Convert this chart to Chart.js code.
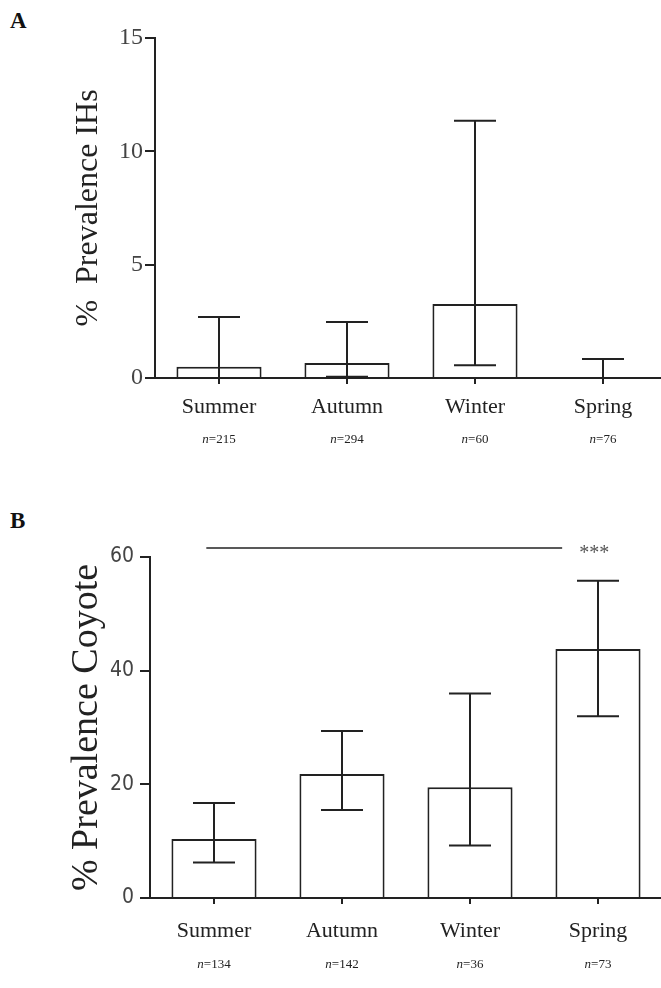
<!DOCTYPE html>
<html>
<head>
<meta charset="utf-8">
<script src="https://cdn.jsdelivr.net/npm/chart.js@4.4.1/dist/chart.umd.min.js"></script>
<style>
  body { margin: 0; width: 661px; height: 988px; overflow: hidden; background: #fff; position: relative; }
  .panel { position: absolute; left: 0; }
  .tag { position: absolute; left: 10px; font: bold 23px 'Liberation Serif', 'Times New Roman', serif; color: #111; }
</style>
</head>
<body>
<div class="tag" style="top:8px">A</div>
<div class="panel" style="top:0"><canvas id="chartA" width="670" height="470"></canvas></div>
<div class="tag" style="top:508px">B</div>
<div class="panel" style="top:480px"><canvas id="chartB" width="670" height="508"></canvas></div>
<script>
const seasons = ['Summer', 'Autumn', 'Winter', 'Spring'];

// Panel A: intestinal helminths
const prevIH = [0.5, 0.66, 3.26, 0];
const lowIH = [0, 0.06, 0.56, 0];
const highIH = [2.69, 2.47, 11.35, 0.84];
const nIH = [215, 294, 60, 76];

// Panel B: coyote
const prevCoyote = [10.4, 21.8, 19.5, 43.8];
const lowCoyote = [6.26, 15.5, 9.25, 32.0];
const highCoyote = [16.7, 29.4, 36.0, 55.8];
const nCoyote = [134, 142, 36, 73];

const INK = '#222';
const SERIF = "'Liberation Serif', 'Times New Roman', serif";
const NARROW = "'Liberation Sans Narrow', 'DejaVu Sans Condensed', 'Liberation Sans', sans-serif";

// error bars (CI) drawn over the bars
const errorBars = {
    id: 'errorBars',
    afterDatasetsDraw(chart, args, opts) {
        const { ctx, scales: { x, y } } = chart;
        ctx.save();
        ctx.strokeStyle = INK;
        ctx.lineWidth = 2;
        opts.low.forEach((lo, i) => {
            const cx = x.getPixelForValue(i);
            const yl = y.getPixelForValue(lo), yh = y.getPixelForValue(opts.high[i]);
            ctx.beginPath();
            ctx.moveTo(cx, yl); ctx.lineTo(cx, yh);
            ctx.moveTo(cx - opts.cap, yh); ctx.lineTo(cx + opts.cap, yh);
            ctx.moveTo(cx - opts.cap, yl); ctx.lineTo(cx + opts.cap, yl);
            ctx.stroke();
        });
        ctx.restore();
    }
};

// sample sizes under the season names, italic n
const sampleSizes = {
    id: 'sampleSizes',
    afterDraw(chart, args, opts) {
        const { ctx, scales: { x, y } } = chart;
        const base = y.getPixelForValue(0) + opts.gap;
        ctx.save();
        ctx.fillStyle = INK;
        ctx.textBaseline = 'middle';
        opts.n.forEach((n, i) => {
            const cx = x.getPixelForValue(i);
            ctx.font = `italic ${opts.size}px ${SERIF}`;
            const w1 = ctx.measureText('n').width;
            ctx.font = `${opts.size}px ${SERIF}`;
            const rest = '=' + n;
            const w2 = ctx.measureText(rest).width;
            const x0 = cx - (w1 + w2) / 2;
            ctx.font = `italic ${opts.size}px ${SERIF}`;
            ctx.fillText('n', x0, base);
            ctx.font = `${opts.size}px ${SERIF}`;
            ctx.fillText(rest, x0 + w1, base);
        });
        ctx.restore();
    }
};

// significance bracket above panel B
const sigLine = {
    id: 'sigLine',
    afterDraw(chart, args, opts) {
        if (!opts.show) return;
        const { ctx, scales: { x, y } } = chart;
        const yy = y.getPixelForValue(opts.level);
        ctx.save();
        ctx.strokeStyle = INK;
        ctx.lineWidth = 1.5;
        ctx.beginPath();
        ctx.moveTo(x.getPixelForValue(opts.from), yy);
        ctx.lineTo(x.getPixelForValue(opts.to), yy);
        ctx.stroke();
        ctx.fillStyle = '#555';
        ctx.font = `20px ${SERIF}`;
        ctx.textAlign = 'center';
        ctx.textBaseline = 'middle';
        ctx.fillText(opts.text, x.getPixelForValue(opts.textAt), yy + 6);
        ctx.restore();
    }
};

function makePanel(id, values, low, high, ns, cfg) {
    return new Chart(document.getElementById(id), {
        type: 'bar',
        data: {
            labels: seasons,
            datasets: [{
                data: values,
                backgroundColor: '#fff',
                borderColor: INK,
                borderWidth: 2,
                barPercentage: 0.665,
                categoryPercentage: 1
            }]
        },
        options: {
            responsive: false,
            animation: false,
            layout: { padding: { top: cfg.top, right: cfg.right, left: 0, bottom: 0 } },
            plugins: {
                legend: { display: false },
                tooltip: { enabled: false },
                errorBars: { low, high, cap: 21 },
                sampleSizes: { n: ns, gap: cfg.nGap, size: 13 },
                sigLine: cfg.sig || { show: false }
            },
            scales: {
                x: {
                    grid: { drawOnChartArea: false, drawTicks: true, tickLength: 6, offset: false, color: INK, lineWidth: 2 },
                    border: { color: INK, width: 2 },
                    ticks: { color: INK, padding: cfg.xPad, font: { family: SERIF, size: 22 } },
                    afterFit: s => { s.height = cfg.xHeight; }
                },
                y: {
                    min: 0, max: cfg.max,
                    grid: { drawOnChartArea: false, drawTicks: true, tickLength: 10, color: INK, lineWidth: 2 },
                    border: { color: INK, width: 2 },
                    ticks: { stepSize: cfg.step, color: '#444', padding: cfg.yPad, font: cfg.tickFont },
                    title: { display: true, text: cfg.title, color: INK, font: cfg.titleFont, padding: cfg.titlePad },
                    afterFit: s => { s.width = cfg.yWidth; }
                }
            }
        },
        plugins: [errorBars, sampleSizes, sigLine]
    });
}

makePanel('chartA', prevIH, lowIH, highIH, nIH, {
    top: 38, right: 3, max: 15, step: 5, yWidth: 155, xHeight: 92, xPad: 10, nGap: 62, yPad: 2,
    tickFont: { family: SERIF, size: 24 },
    title: '%  Prevalence IHs', titleFont: { family: SERIF, size: 32 }, titlePad: { top: 69, bottom: 0 }
});

makePanel('chartB', prevCoyote, lowCoyote, highCoyote, nCoyote, {
    top: 77, right: 8, max: 60, step: 20, yWidth: 150, xHeight: 90, xPad: 14, nGap: 67, yPad: 6,
    tickFont: { family: NARROW, size: 21 },
    title: '% Prevalence Coyote', titleFont: { family: SERIF, size: 38 }, titlePad: { top: 64, bottom: 0 },
    sig: { show: true, from: -0.06, to: 2.72, level: 61.6, text: '***', textAt: 2.97 }
});
</script>
</body>
</html>
